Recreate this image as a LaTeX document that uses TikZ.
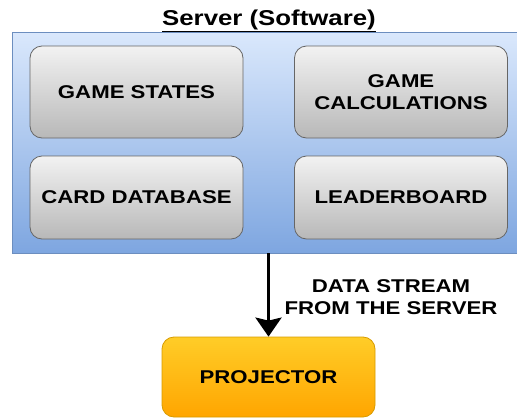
\documentclass[tikz,border=0pt]{standalone}
\usepackage{fontspec}
\setmainfont[FakeStretch=1.2]{Liberation Sans}
\usetikzlibrary{arrows.meta,shadings}
\definecolor{bluetop}{HTML}{DAE8FC}
\definecolor{bluebot}{HTML}{7EA6E0}
\definecolor{blueline}{HTML}{6C8EBF}
\definecolor{graytop}{HTML}{F2F2F2}
\definecolor{graybot}{HTML}{B8B8B8}
\definecolor{grayline}{HTML}{666666}
\definecolor{orangetop}{HTML}{FFCD28}
\definecolor{orangebot}{HTML}{FFA500}
\definecolor{orangeline}{HTML}{D79B00}
\tikzset{
  container/.style={draw=blueline, line width=0.8pt, top color=bluetop, bottom color=bluebot,
    minimum width=513pt, minimum height=221pt, inner sep=0pt},
  module/.style={draw=grayline, line width=0.8pt, rounded corners=12pt,
    top color=graytop, bottom color=graybot, minimum width=213pt,
    align=center, font=\fontsize{18.5}{21.5}\selectfont\bfseries, inner sep=0pt},
  device/.style={draw=orangeline, line width=0.8pt, rounded corners=12pt,
    top color=orangetop, bottom color=orangebot, minimum width=213pt, minimum height=80pt,
    font=\fontsize{18.5}{21.5}\selectfont\bfseries, inner sep=0pt},
  flow/.style={line width=3pt, -{Stealth[length=19pt,width=26pt,inset=3pt]}},
  caption/.style={align=center, font=\fontsize{18.5}{21.5}\selectfont\bfseries, inner sep=0pt}
}
\begin{document}
\begin{tikzpicture}[x=1pt,y=-1pt]
  \useasboundingbox (0,0) rectangle (517,418);
  % server container and its title
  \node[container] (server) at (268.5,142.5) {};
  \node[font=\fontsize{21.5}{24}\selectfont\bfseries, anchor=base, inner sep=0pt] (title) at (269,25) {\underline{Server (Software)}};
  % software modules
  \node[module, minimum height=92pt] (states) at (136.5,92) {GAME STATES};
  \node[module, minimum height=92pt] (calc) at (401,92) {GAME\\CALCULATIONS};
  \node[module, minimum height=83pt] (cards) at (136.5,197.5) {CARD DATABASE};
  \node[module, minimum height=83pt] (board) at (401,197.5) {LEADERBOARD};
  % output device
  \node[device] (projector) at (268.5,377) {PROJECTOR};
  % data stream
  \coordinate (out) at (projector.north |- server.south);
  \draw[flow] (out) -- (projector.north);
  \node[caption] (stream) at (391,297) {DATA STREAM\\FROM THE SERVER};
\end{tikzpicture}
\end{document}
